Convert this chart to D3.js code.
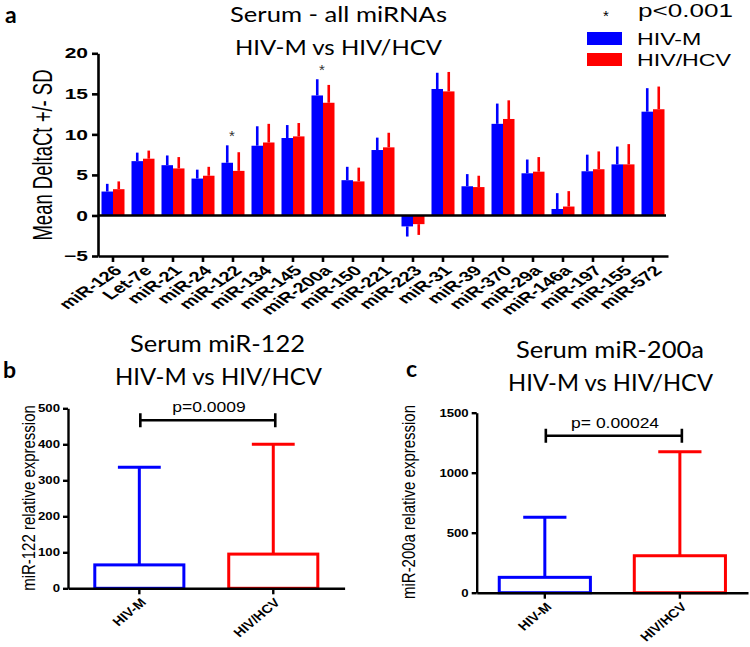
<!DOCTYPE html>
<html><head><meta charset="utf-8">
<script src="https://cdn.jsdelivr.net/npm/d3@7"></script>
<style>body{margin:0;background:#fff} svg{display:block}</style>
</head><body><svg id="chart" width="750" height="647"></svg>
<script>
// ---------- DATA ----------
const categories = ["miR-126","Let-7e","miR-21","miR-24","miR-122","miR-134","miR-145","miR-200a","miR-150","miR-221","miR-223","miR-31","miR-39","miR-370","miR-29a","miR-146a","miR-197","miR-155","miR-572"];
const hivM     = [2.95, 6.7, 6.2, 4.55, 6.5, 8.6, 9.55, 14.8, 4.35, 8.07, -1.35, 15.6, 3.6, 11.3, 5.2, 0.8, 5.45, 6.3, 12.8];
const hivMSd   = [0.95, 1.05, 1.2, 1.1, 2.15, 2.4, 1.6, 2.0, 1.65, 1.53, 1.25, 2.0, 1.5, 2.5, 1.7, 1.95, 2.05, 2.2, 2.9];
const hivHcv   = [3.24, 7.0, 5.8, 4.9, 5.5, 9.0, 9.75, 13.9, 4.2, 8.4, -1.07, 15.3, 3.5, 11.9, 5.4, 1.1, 5.7, 6.3, 13.1];
const hivHcvSd = [0.96, 1.0, 1.4, 1.1, 2.3, 2.3, 1.65, 2.2, 1.7, 1.8, 1.33, 2.4, 1.4, 2.3, 1.8, 1.9, 2.2, 2.5, 2.8];
const yTicksA = [-5, 0, 5, 10, 15, 20];
const significantA = ["miR-122", "miR-200a"];
const series = ["HIV-M", "HIV/HCV"];

const groups = ["HIV-M", "HIV/HCV"];
const mir122Median = [65, 95];
const mir122Upper  = [336, 400];
const mir122Ticks  = [0, 100, 200, 300, 400, 500];
const mir122P = "p=0.0009";
const mir200aMedian = [128, 308];
const mir200aUpper  = [628, 1175];
const mir200aTicks  = [0, 500, 1000, 1500];
const mir200aP = "p= 0.00024";

// ---------- STYLE ----------
const colors = {"HIV-M": "#0000ff", "HIV/HCV": "#ff0000"};
const GP = "'Liberation Sans', Arial, sans-serif";
const TT = "Lato, 'Open Sans', sans-serif";

const svg = d3.select("#chart");

function title(x, y, size, len, txt, bold) {
  return svg.append("text").attr("x", x).attr("y", y).attr("text-anchor", len ? "middle" : "start")
    .attr("font-family", TT).attr("font-size", size).attr("font-weight", bold ? "bold" : "normal")
    .attr("textLength", len || null).attr("lengthAdjust", len ? "spacingAndGlyphs" : null).text(txt);
}

// ---------- PANEL A ----------
const xA = d3.scaleBand().domain(categories).range([98, 668]).paddingInner(0.2333).paddingOuter(0.1167);
const xSub = d3.scaleBand().domain(series).range([0, xA.bandwidth()]);
const yA = d3.scaleLinear().domain([-5, 20]).range([256, 53.3]);
const SX = 1.45;

const rows = categories.map((c, i) => ({c, vals: [
  {s: "HIV-M", v: hivM[i], sd: hivMSd[i]},
  {s: "HIV/HCV", v: hivHcv[i], sd: hivHcvSd[i]}
]}));

const gA = svg.append("g");
const grp = gA.selectAll("g.cat").data(rows).join("g").attr("transform", d => `translate(${xA(d.c)},0)`);
grp.selectAll("rect").data(d => d.vals).join("rect")
  .attr("x", d => xSub(d.s)).attr("width", xSub.bandwidth())
  .attr("y", d => yA(Math.max(0, d.v))).attr("height", d => Math.abs(yA(d.v) - yA(0)))
  .attr("fill", d => colors[d.s]);
grp.selectAll("line.err").data(d => d.vals).join("line").attr("class", "err")
  .attr("x1", d => xSub(d.s) + xSub.bandwidth() / 2).attr("x2", d => xSub(d.s) + xSub.bandwidth() / 2)
  .attr("y1", d => yA(d.v)).attr("y2", d => yA(d.v >= 0 ? d.v + d.sd : d.v - d.sd))
  .attr("stroke", d => colors[d.s]).attr("stroke-width", 2.6);

// significance stars
rows.filter(r => significantA.includes(r.c)).forEach(r => {
  const top = d3.max(r.vals, d => d.v + d.sd);
  gA.append("text").attr("x", xA(r.c) + xA.bandwidth() / 2 - 1).attr("y", yA(top) - 4)
    .attr("text-anchor", "middle").attr("font-family", GP).attr("font-size", 15).attr("fill", "#333").text("*");
});

// zero line
gA.append("line").attr("x1", 98).attr("x2", 666).attr("y1", yA(0)).attr("y2", yA(0)).attr("stroke", "#000").attr("stroke-width", 2.5);

// y axis
const yAxA = gA.append("g").attr("transform", "translate(98,0)").call(d3.axisLeft(yA).tickValues(yTicksA).tickSize(6).tickSizeOuter(0));
yAxA.selectAll("text").attr("x", -10 / SX).attr("transform", `scale(${SX},1)`)
  .attr("font-family", GP).attr("font-weight", "bold").attr("font-size", 14.5).attr("fill", "#000");
// x axis
const xAxA = gA.append("g").attr("transform", `translate(0,${yA(-5)})`).call(d3.axisBottom(xA).tickSize(6).tickSizeOuter(0));
xAxA.selectAll("text").attr("x", 0).attr("y", 0).attr("dy", "0.35em").attr("text-anchor", "end")
  .attr("transform", `translate(5,12) scale(${SX},1) rotate(-45)`)
  .attr("font-family", GP).attr("font-weight", "bold").attr("font-size", 14).attr("fill", "#000");
[yAxA, xAxA].forEach(a => { a.selectAll("path,line").attr("stroke", "#000").attr("stroke-width", 2.6); });

// y title
gA.append("text").attr("transform", `translate(52,155) scale(${SX},1) rotate(-90)`)
  .attr("text-anchor", "middle").attr("font-family", GP).attr("font-size", 18.5).text("Mean  DeltaCt +/-  SD");

// titles
title(5, 23, 23, null, "a", true);
title(338.5, 21.5, 21.5, 217, "Serum - all miRNAs");
title(338.5, 55, 21.5, 207, "HIV-M vs HIV/HCV");

// legend
const lg = svg.append("g");
lg.append("text").attr("x", 606).attr("y", 21).attr("text-anchor", "middle").attr("font-family", GP).attr("font-size", 15).text("*");
lg.append("text").attr("y", 17).attr("transform", `scale(${SX},1)`).attr("x", 638 / SX)
  .attr("font-family", GP).attr("font-size", 18).text("p<0.001");
series.forEach((s, i) => {
  const y0 = [32, 53][i];
  lg.append("rect").attr("x", 587).attr("y", y0).attr("width", 35).attr("height", 13).attr("fill", colors[s]);
  lg.append("text").attr("x", 637 / SX).attr("y", y0 + 13).attr("transform", `scale(${SX},1)`)
    .attr("font-family", GP).attr("font-size", 16).text(s);
});

// ---------- PANELS B & C ----------
function boxPanel(opt) {
  const g = svg.append("g");
  const S2 = 1.2;
  const x = d3.scaleBand().domain(groups).range(opt.xr).paddingInner(opt.pi).paddingOuter(opt.po);
  const y = d3.scaleLinear().domain([0, d3.max(opt.ticks)]).range(opt.yr);
  const data = groups.map((gname, i) => ({g: gname, med: opt.med[i], up: opt.up[i]}));
  const capW = x.step() * 0.32;
  data.forEach(d => {
    const cx = x(d.g) + x.bandwidth() / 2;
    g.append("rect").attr("x", x(d.g)).attr("width", x.bandwidth()).attr("y", y(d.med)).attr("height", y(0) - y(d.med))
      .attr("fill", "none").attr("stroke", colors[d.g]).attr("stroke-width", 3);
    g.append("line").attr("x1", cx).attr("x2", cx).attr("y1", y(d.med)).attr("y2", y(d.up)).attr("stroke", colors[d.g]).attr("stroke-width", 3);
    g.append("line").attr("x1", cx - capW / 2).attr("x2", cx + capW / 2).attr("y1", y(d.up)).attr("y2", y(d.up)).attr("stroke", colors[d.g]).attr("stroke-width", 3);
  });
  // bracket
  const c1 = x(groups[0]) + x.bandwidth() / 2 + 1, c2 = x(groups[1]) + x.bandwidth() / 2 + 2;
  const by = y(opt.bracket);
  g.append("path").attr("d", `M${c1},${by - 7}V${by + 7}M${c1},${by}H${c2}M${c2},${by - 7}V${by + 7}`)
    .attr("stroke", "#000").attr("stroke-width", 2.6).attr("fill", "none");
  g.append("text").attr("x", (c1 + c2) / 2 / 1.25 + 1).attr("y", by - 8).attr("transform", "scale(1.25,1)")
    .attr("text-anchor", "middle").attr("font-family", GP).attr("font-size", 14).text(opt.p);
  // axes
  const ya = g.append("g").attr("transform", `translate(${opt.xr[0]},0)`)
    .call(d3.axisLeft(y).tickValues(opt.ticks).tickFormat(d3.format("d")).tickSize(5).tickSizeOuter(0));
  ya.selectAll("text").attr("x", -8 / S2).attr("transform", `scale(${S2},1)`)
    .attr("font-family", GP).attr("font-weight", "bold").attr("font-size", 11).attr("fill", "#000");
  const xa = g.append("g").attr("transform", `translate(0,${y(0)})`).call(d3.axisBottom(x).tickSize(6).tickSizeOuter(0));
  xa.selectAll("text").attr("x", 0).attr("y", 0).attr("dy", "0.35em").attr("text-anchor", "end")
    .attr("transform", `translate(4,12) scale(${S2},1) rotate(-45)`)
    .attr("font-family", GP).attr("font-weight", "bold").attr("font-size", 12).attr("fill", "#000");
  [ya, xa].forEach(a => a.selectAll("path,line").attr("stroke", "#000").attr("stroke-width", 2.4));
  // y label
  g.append("text").attr("transform", `translate(${opt.ylx},${opt.yly}) scale(${S2},1) rotate(-90)`)
    .attr("text-anchor", "middle").attr("font-family", GP).attr("font-size", 15).text(opt.ylab);
  // titles
  title(opt.lx, opt.ly, 23, null, opt.letter, true);
  title(opt.tx1, opt.ty, 23, opt.w1, opt.t1);
  title(opt.tx2, opt.ty + 32.5, 23, opt.w2, "HIV-M vs HIV/HCV");
}

boxPanel({xr: [68, 344.6], pi: 0.335, po: 0.2, yr: [588.3, 408.3], ticks: mir122Ticks, med: mir122Median, up: mir122Upper,
  bracket: 467, p: mir122P, ylab: "miR-122 relative expression", ylx: 35, yly: 498,
  letter: "b", lx: 3, ly: 378, t1: "Serum miR-122", tx1: 217.5, w1: 175, tx2: 218.5, w2: 207, ty: 352});
boxPanel({xr: [476.7, 748], pi: 0.325, po: 0.167, yr: [592.7, 412.7], ticks: mir200aTicks, med: mir200aMedian, up: mir200aUpper,
  bracket: 1308, p: mir200aP, ylab: "miR-200a relative expression", ylx: 415, yly: 502,
  letter: "c", lx: 406, ly: 377, t1: "Serum miR-200a", tx1: 610, w1: 188, tx2: 610.5, w2: 205, ty: 358});
</script>
</body></html>
